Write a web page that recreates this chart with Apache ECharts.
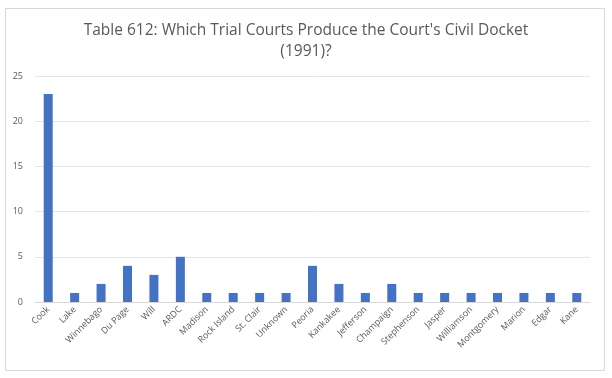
<!DOCTYPE html>
<html><head><meta charset="utf-8">
<script src="https://cdn.jsdelivr.net/npm/echarts@6/dist/echarts.min.js"></script>
<style>html,body{margin:0;padding:0;background:#fff}#c{width:612px;height:378px}</style>
</head><body><div id="c"></div>
<script>
const categories = ["Cook","Lake","Winnebago","Du Page","Will","ARDC","Madison","Rock Island","St. Clair","Unknown","Peoria","Kankakee","Jefferson","Champaign","Stephenson","Jasper","Williamson","Montgomery","Marion","Edgar","Kane"];
const values = [23,1,2,4,3,5,1,1,1,1,4,2,1,2,1,1,1,1,1,1,1];
const yTicks = [0,5,10,15,20,25];
const chart = echarts.init(document.getElementById('c'), null, {renderer:'canvas'});
chart.setOption({
  animation:false,
  backgroundColor:'#fff',
  graphic:[{type:'rect',shape:{x:5.5,y:8.5,width:599,height:362},style:{fill:'none',stroke:'#d9d9d9',lineWidth:1},silent:true}],
  title:{text:"Table 612: Which Trial Courts Produce the Court's Civil Docket\n(1991)?",left:'center',top:15,
    textStyle:{fontFamily:'Open Sans',fontSize:15.5,fontWeight:'normal',color:'#595959',lineHeight:21}},
  grid:{left:35,right:22,top:76,bottom:76,containLabel:false},
  xAxis:{type:'category',data:categories,
    axisLine:{lineStyle:{color:'#d9d9d9'}},axisTick:{show:false},
    axisLabel:{rotate:45,interval:0,fontFamily:'Open Sans',fontSize:9,color:'#595959',margin:6}},
  yAxis:{type:'value',min:yTicks[0],max:yTicks[yTicks.length-1],interval:5,
    axisLine:{show:false},axisTick:{show:false},
    axisLabel:{fontFamily:'Open Sans',fontSize:9,color:'#595959',margin:12},
    splitLine:{lineStyle:{color:'#e6e6e6'}}},
  series:[{type:'bar',data:values,barWidth:9,itemStyle:{color:'#4472c4'}}]
});
</script></body></html>
